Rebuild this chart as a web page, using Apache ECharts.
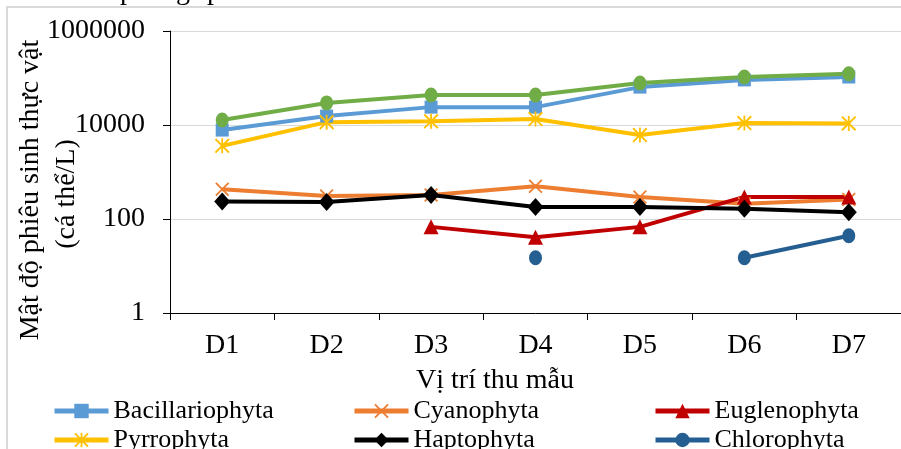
<!DOCTYPE html>
<html>
<head>
<meta charset="utf-8">
<script src="https://cdn.jsdelivr.net/npm/echarts@6/dist/echarts.min.js"></script>
<style>
  html, body { margin: 0; padding: 0; background: #ffffff; }
  #chart { width: 901px; height: 449px; }
</style>
</head>
<body>
<div id="chart"></div>
<script>
// Sampling sites
const categories = ['D1', 'D2', 'D3', 'D4', 'D5', 'D6', 'D7'];

// Phytoplankton density by division (cells/L); null = not recorded
const bacillariophyta = [7800, 15500, 24000, 24000, 64000, 91000, 105000];
const cyanophyta      = [430, 310, 325, 500, 295, 210, 260];
const euglenophyta    = [null, null, 68, 41, 68, 295, 295];
const pyrrophyta      = [3600, 11500, 12000, 13400, 6100, 11000, 10800];
const haptophyta      = [235, 230, 325, 180, 180, 165, 140];
const chlorophyta     = [null, null, null, 15, null, 15, 44];
const tong            = [12800, 29500, 43500, 43500, 78000, 105000, 123000];

// Log axis ticks
const yTicks = [1, 100, 10000, 1000000];

const FONT = '"Liberation Serif", "Times New Roman", serif';

// Marker shapes drawn as filled outlines: "x" and six-armed asterisk
const SYM_X = 'path://M0,0.9L0.9,0L10,9.1L9.1,10Z M10,0.9L0.9,10L0,9.1L9.1,0Z';
const SYM_STAR = 'path://M0,0.9L0.9,0L10,9.1L9.1,10Z M10,0.9L0.9,10L0,9.1L9.1,0Z M4.4,0L5.6,0L5.6,10L4.4,10Z';

function lineSeries(name, data, color, symbol, symbolSize) {
  return {
    name: name,
    type: 'line',
    data: data,
    symbol: symbol,
    symbolSize: symbolSize,
    showSymbol: true,
    showAllSymbol: true,
    connectNulls: false,
    lineStyle: { color: color, width: 4 },
    itemStyle: { color: color, borderWidth: 0 },
    emphasis: { disabled: true },
    animation: false
  };
}

// Running text of the page above the chart frame (only its lower edge shows)
const headWords = [
  { t: 'nhiều', x: -22 }, { t: 'nhà', x: 60 }, { t: 'phong', x: 120 },
  { t: 'phú', x: 207 }, { t: 'nhất', x: 268 }, { t: 'của', x: 335 }, { t: 'loài', x: 390 }
];

const legendText = { fontFamily: FONT, fontSize: 26, color: '#000', lineHeight: 24 };
function legendCol(left, names) {
  return {
    orient: 'vertical', left: left, top: 398, height: 120,
    padding: 0,
    itemWidth: 54, itemHeight: 18, itemGap: 3,
    lineStyle: { width: 5 },
    textStyle: legendText, data: names,
    selectedMode: false
  };
}

const chart = echarts.init(document.getElementById('chart'), null, { renderer: 'canvas' });
chart.setOption({
  animation: false,
  backgroundColor: '#ffffff',
  grid: { left: 170, right: -10, top: 31, bottom: 136, containLabel: false },
  xAxis: {
    type: 'category',
    data: categories,
    boundaryGap: true,
    axisLine: { show: true, lineStyle: { color: '#000', width: 1 } },
    axisTick: { show: true, length: 7, lineStyle: { color: '#000' } },
    axisLabel: { fontFamily: FONT, fontSize: 28, color: '#000', margin: 19 },
    splitLine: { show: false }
  },
  yAxis: {
    type: 'log',
    logBase: 100,
    min: yTicks[0],
    max: yTicks[yTicks.length - 1],
    axisLine: { show: true, lineStyle: { color: '#000', width: 1 } },
    axisTick: { show: true, length: 7, lineStyle: { color: '#000' } },
    minorTick: { show: false },
    axisLabel: {
      fontFamily: FONT, fontSize: 28, color: '#000', margin: 25,
      formatter: v => String(Math.round(v))
    },
    splitLine: { show: true, lineStyle: { color: '#d9d9d9', width: 1 } }
  },
  legend: [
    legendCol(52, ['Bacillariophyta', 'Pyrrophyta', 'Tổng']),
    legendCol(352, ['Cyanophyta', 'Haptophyta']),
    legendCol(653, ['Euglenophyta', 'Chlorophyta'])
  ],
  series: [
    lineSeries('Bacillariophyta', bacillariophyta, '#5B9BD5', 'rect', 13),
    lineSeries('Cyanophyta', cyanophyta, '#ED7D31', SYM_X, 14),
    lineSeries('Euglenophyta', euglenophyta, '#C00000', 'triangle', 15),
    lineSeries('Pyrrophyta', pyrrophyta, '#FFC000', SYM_STAR, 15),
    lineSeries('Haptophyta', haptophyta, '#000000', 'diamond', [16, 18]),
    lineSeries('Chlorophyta', chlorophyta, '#255E91', 'circle', [13, 15]),
    lineSeries('Tổng', tong, '#70AD47', 'circle', [13, 15])
  ],
  graphic: [
    // chart frame
    {
      type: 'rect', silent: true, z: -1,
      shape: { x: 7, y: 7, width: 1000, height: 1000 },
      style: { fill: 'none', stroke: '#d9d9d9', lineWidth: 2 }
    },
    // y axis title, two lines
    {
      type: 'text', silent: true, x: 31, y: 190, rotation: Math.PI / 2,
      style: { text: 'Mật độ phiêu sinh thực vật', fontFamily: FONT, fontSize: 28,
               fill: '#000', align: 'center', verticalAlign: 'middle' }
    },
    {
      type: 'text', silent: true, x: 67, y: 194, rotation: Math.PI / 2,
      style: { text: '(cá thể/L)', fontFamily: FONT, fontSize: 28,
               fill: '#000', align: 'center', verticalAlign: 'middle' }
    },
    // x axis title
    {
      type: 'text', silent: true, x: 495, y: 381,
      style: { text: 'Vị trí thu mẫu', fontFamily: FONT, fontSize: 28,
               fill: '#000', align: 'center', verticalAlign: 'middle' }
    }
  ].concat(headWords.map(w => ({
    type: 'text', silent: true, x: w.x, y: -8,
    style: { text: w.t, fontFamily: FONT, fontSize: 28, fill: '#000',
             align: 'left', verticalAlign: 'middle' }
  })))
});
</script>
</body>
</html>
